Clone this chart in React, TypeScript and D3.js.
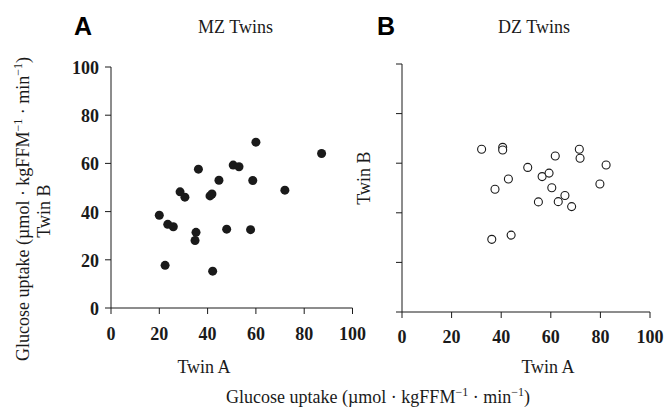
import React from "react";
import * as d3 from "d3";

const mzTwinA = [20, 22.4, 23.5, 25.8, 28.6, 30.6, 34.8, 35.2, 36.2, 41, 41.8, 42.1, 44.7, 47.9, 50.6, 53, 57.8, 58.7, 60, 72, 87.2];
const mzTwinB = [38.5, 17.7, 34.7, 33.7, 48.2, 46, 28, 31.4, 57.6, 46.5, 47.3, 15.3, 53, 32.7, 59.3, 58.6, 32.5, 52.9, 68.8, 48.9, 64.1];

const dzTwinA = [32.1, 40.6, 40.6, 71.5, 71.8, 61.8, 82.3, 50.7, 56.5, 59.3, 42.9, 37.5, 60.4, 79.8, 65.7, 55, 63, 68.4, 36.2, 44];
const dzTwinB = [65.6, 66.4, 65.3, 65.6, 62, 62.9, 59.3, 58.3, 54.6, 56, 53.6, 49.5, 50.1, 51.6, 47, 44.4, 44.5, 42.5, 29.3, 31];

const tickValues = [0, 20, 40, 60, 80, 100];
const xTitle = "Twin A";
const yTitle = "Twin B";

const SERIF = "'Liberation Serif', 'Times New Roman', serif";
const SANS = "'Liberation Sans', Arial, sans-serif";
const INK = "#1a1a1a";

function UnitLabel(props: any) {
  const { x, y, transform, anchor } = props;
  return (
    <text x={x} y={y} transform={transform} textAnchor={anchor || "middle"} fontFamily={SERIF} fontSize={18} fill={INK}>
      Glucose uptake (µmol · kgFFM
      <tspan fontSize={12} dy={-7}>−1</tspan>
      <tspan dy={7}> · min</tspan>
      <tspan fontSize={12} dy={-7}>−1</tspan>
      <tspan dy={7}>)</tspan>
    </text>
  );
}

function Panel(props: any) {
  const { x0, x1, yTop, yBottom, xs, ys, filled, showYLabels, labelGap } = props;
  const x = d3.scaleLinear().domain([0, 100]).range([x0, x1]);
  const y = d3.scaleLinear().domain([0, 100]).range([yBottom, yTop]);
  const tick = 6;
  return (
    <g>
      <line x1={x0} x2={x0} y1={yTop} y2={yBottom} stroke={INK} strokeWidth={1} />
      <line x1={x0} x2={x1} y1={yBottom} y2={yBottom} stroke={INK} strokeWidth={1} />
      {tickValues.map((t) => (
        <g key={"y" + t}>
          <line x1={x0 - tick} x2={x0} y1={y(t)} y2={y(t)} stroke={INK} strokeWidth={1} />
          {showYLabels && (
            <text x={x0 - 12} y={y(t) + 7} textAnchor="end" fontFamily={SERIF} fontWeight="bold" fontSize={18} fill={INK}>
              {t}
            </text>
          )}
        </g>
      ))}
      {tickValues.map((t) => (
        <g key={"x" + t}>
          <line x1={x(t)} x2={x(t)} y1={yBottom} y2={yBottom + tick} stroke={INK} strokeWidth={1} />
          <text x={x(t)} y={yBottom + labelGap} textAnchor="middle" fontFamily={SERIF} fontWeight="bold" fontSize={18} fill={INK}>
            {t}
          </text>
        </g>
      ))}
      {xs.map((v: number, i: number) => (
        <circle
          key={i}
          cx={x(v)}
          cy={y(ys[i])}
          r={filled ? 4.5 : 4}
          fill={filled ? INK : "#fff"}
          stroke={INK}
          strokeWidth={filled ? 0 : 1.1}
        />
      ))}
    </g>
  );
}

export default function App() {
  return (
    <svg width={665} height={409} style={{ position: "absolute", left: 0, top: 0, background: "#fff" }}>
      <rect width={665} height={409} fill="#fff" />
      <text x={74} y={35} fontFamily={SANS} fontWeight="bold" fontSize={25} fill="#000">A</text>
      <text x={198} y={33} fontFamily={SERIF} fontSize={18} fill={INK}>MZ Twins</text>
      <text x={377} y={35} fontFamily={SANS} fontWeight="bold" fontSize={25} fill="#000">B</text>
      <text x={498} y={33} fontFamily={SERIF} fontSize={18} fill={INK}>DZ Twins</text>

      <Panel x0={111} x1={352.5} yTop={67} yBottom={308} xs={mzTwinA} ys={mzTwinB} filled={true} showYLabels={true} labelGap={32} />
      <Panel x0={402} x1={650} yTop={64} yBottom={312} xs={dzTwinA} ys={dzTwinB} filled={false} showYLabels={false} labelGap={31} />

      <UnitLabel x={0} y={0} transform="translate(29,209) rotate(-90)" />
      <text transform="translate(50,211) rotate(-90)" textAnchor="middle" fontFamily={SERIF} fontSize={18} fill={INK}>{yTitle}</text>
      <text transform="translate(370,178) rotate(-90)" textAnchor="middle" fontFamily={SERIF} fontSize={18} fill={INK}>{yTitle}</text>

      <text x={204} y={373} textAnchor="middle" fontFamily={SERIF} fontSize={18} fill={INK}>{xTitle}</text>
      <text x={548} y={373} textAnchor="middle" fontFamily={SERIF} fontSize={18} fill={INK}>{xTitle}</text>
      <UnitLabel x={378} y={403} />
    </svg>
  );
}
